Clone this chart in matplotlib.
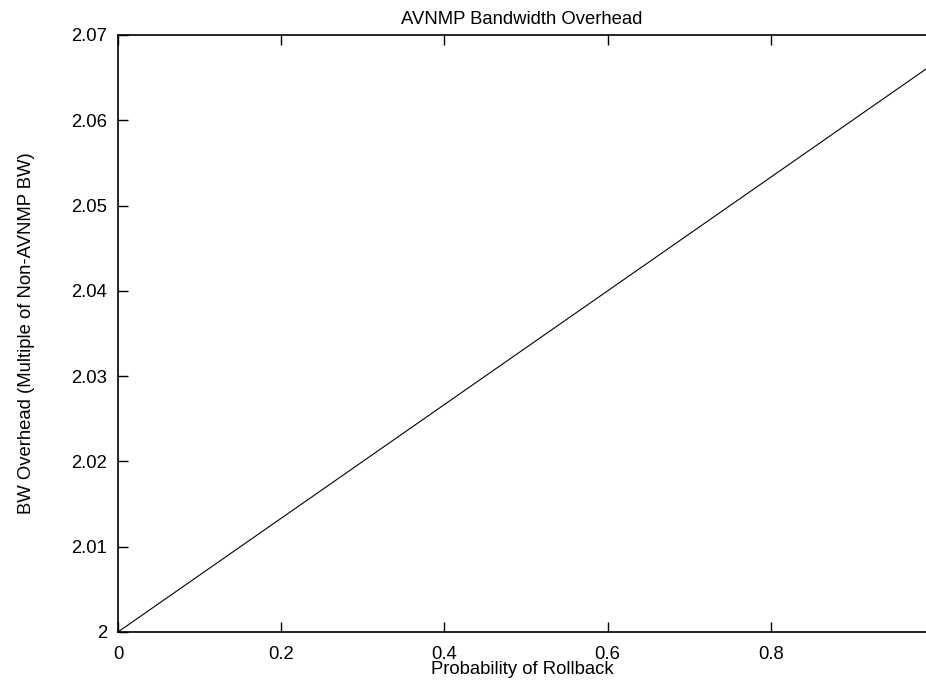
import matplotlib
matplotlib.use("Agg")
import matplotlib.pyplot as plt
from matplotlib.ticker import FormatStrFormatter

# rollback probability vs. bandwidth overhead
prob = [0.0, 0.99]
overhead = [2.0, 2.066]

x_ticks = [0, 0.2, 0.4, 0.6, 0.8]
y_ticks = [2.0, 2.01, 2.02, 2.03, 2.04, 2.05, 2.06, 2.07]

plt.rcParams['font.family'] = ['Liberation Sans', 'DejaVu Sans']
plt.rcParams['font.size'] = 13.3

fig = plt.figure(figsize=(9.26, 6.81), dpi=100)
ax = fig.add_axes([0.1274, 0.0720, 0.8726, 0.8767])

ax.plot(prob, overhead, color='black', linewidth=0.8)

ax.set_xlim(0, 0.99)
ax.set_ylim(2.0, 2.07)
ax.set_xticks(x_ticks)
ax.set_yticks(y_ticks)
ax.xaxis.set_major_formatter(FormatStrFormatter('%g'))
ax.yaxis.set_major_formatter(FormatStrFormatter('%g'))
ax.tick_params(direction='in', length=7, width=1.0, top=True, right=False,
               colors='black')
ax.tick_params(axis='x', pad=10)
ax.tick_params(axis='y', pad=8)
ax.spines['right'].set_visible(False)
for s in ['left', 'top', 'bottom']:
    ax.spines[s].set_linewidth(1.2)

ax.set_title('AVNMP Bandwidth Overhead', fontsize=13.3, pad=8)
ax.set_xlabel('Probability of Rollback', labelpad=-1)
ax.set_ylabel('BW Overhead (Multiple of Non-AVNMP BW)', labelpad=26)

fig.savefig('out.png', dpi=100)
